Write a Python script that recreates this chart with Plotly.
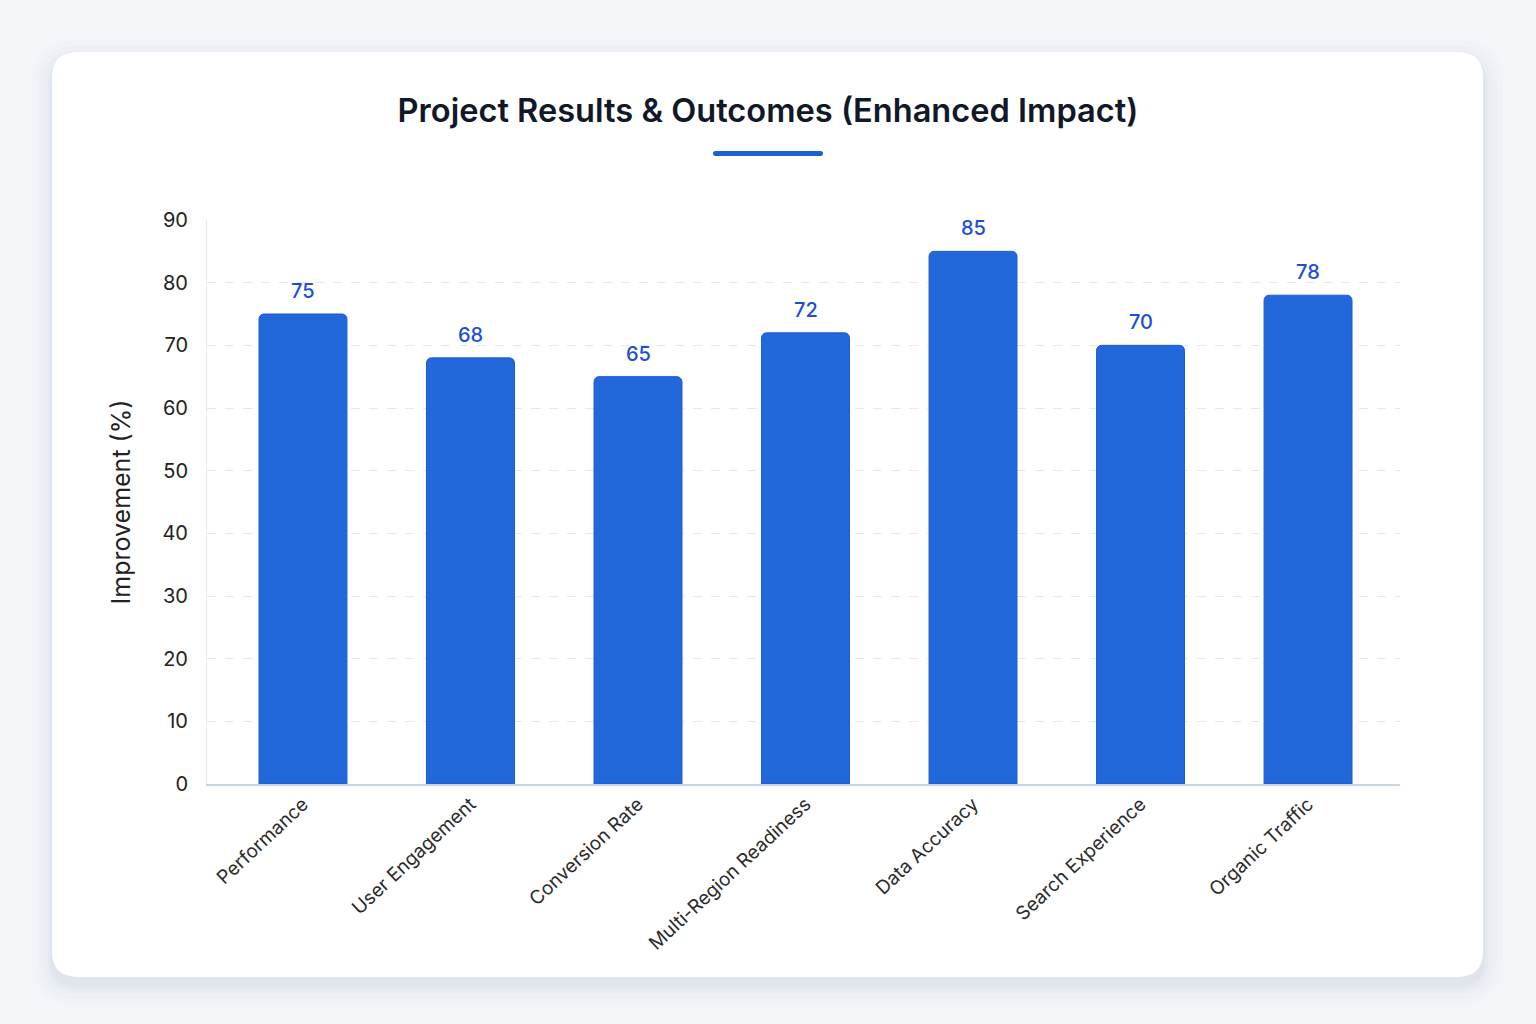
import plotly.graph_objects as go

categories = ['Performance', 'User Engagement', 'Conversion Rate', 'Multi-Region Readiness',
              'Data Accuracy', 'Search Experience', 'Organic Traffic']
improvement = [75, 68, 65, 72, 85, 70, 78]
y_ticks = [0, 10, 20, 30, 40, 50, 60, 70, 80, 90]

W, H = 1536, 1024
# plot area in pixels
L, R, T, B = 207, 1400, 220, 784


def px_x(x):
    return (x - L) / (R - L)


def px_y(y):
    return (B - y) / (B - T)


def round_rect(x0, y0, x1, y1, r):
    # rounded rectangle path, pixel coords -> paper coords
    pts = [
        ('M', x0 + r, y0), ('L', x1 - r, y0), ('Q', x1, y0, x1, y0 + r),
        ('L', x1, y1 - r), ('Q', x1, y1, x1 - r, y1), ('L', x0 + r, y1),
        ('Q', x0, y1, x0, y1 - r), ('L', x0, y0 + r), ('Q', x0, y0, x0 + r, y0),
    ]
    out = []
    for p in pts:
        cmd = p[0]
        coords = p[1:]
        s = cmd
        for i in range(0, len(coords), 2):
            s += ' %.5f,%.5f' % (px_x(coords[i]), px_y(coords[i + 1]))
        out.append(s)
    return ' '.join(out) + ' Z'


shapes = []
# soft shadow under the card
for grow, op in [(20, 0.015), (14, 0.02), (9, 0.025), (5, 0.03), (2, 0.04)]:
    shapes.append(dict(type='path', xref='paper', yref='paper', layer='below',
                       path=round_rect(52 - grow, 52 - grow + 8, 1483 + grow, 977 + grow + 8, 26 + grow),
                       fillcolor='rgba(100,116,160,%.3f)' % op, line=dict(width=0)))
# card
shapes.append(dict(type='path', xref='paper', yref='paper', layer='below',
                   path=round_rect(52, 52, 1483, 977, 26),
                   fillcolor='white', line=dict(width=0)))
# title underline
shapes.append(dict(type='path', xref='paper', yref='paper', layer='above',
                   path=round_rect(713, 151, 823, 156, 2.5),
                   fillcolor='#1d5fd6', line=dict(width=0)))

fig = go.Figure()
fig.add_trace(go.Bar(
    x=categories,
    y=improvement,
    width=0.525,
    marker=dict(color='#2368db', line=dict(color='#1d5bd0', width=1)),
    hovertemplate='%{x}: %{y}%<extra></extra>',
))

# value labels above the bars
for cat, val in zip(categories, improvement):
    fig.add_annotation(x=cat, y=val, text=str(val), showarrow=False,
                       yanchor='bottom', yshift=9,
                       font=dict(family='Inter', size=20, color='#1d4ed8', weight=500))

fig.update_layout(
    width=W, height=H,
    margin=dict(l=L, r=W - R, t=T, b=H - B),
    paper_bgcolor='#f3f5f9',
    plot_bgcolor='rgba(0,0,0,0)',
    font=dict(family='Inter', color='#222'),
    showlegend=False,
    barcornerradius=5,
    shapes=shapes,
    title=dict(text='Project Results & Outcomes (Enhanced Impact)',
               x=0.5, xref='container', xanchor='center', y=1 - 111 / H, yanchor='middle',
               font=dict(family='Inter', size=32.6, color='#111827', weight=600)),
    xaxis=dict(
        range=[-0.573, 6.549],
        tickangle=-43,
        tickfont=dict(family='Inter', size=19, color='#2b2b2b'),
        showgrid=False,
        showline=True, linecolor='#c9d3e6', linewidth=1.5,
        ticks='', ticklen=0,
    ),
    yaxis=dict(
        range=[0, 90],
        tickvals=y_ticks,
        tickfont=dict(family='Inter', size=20, color='#222'),
        title=dict(text='Improvement (%)', font=dict(family='Inter', size=25, color='#222'), standoff=24),
        showgrid=True, gridcolor='#e3e8f1', griddash='dash', gridwidth=1,
        showline=True, linecolor='#e6ebf3', linewidth=1,
        zeroline=False,
        ticks='outside', ticklen=14, tickcolor='rgba(0,0,0,0)',
    ),
)

fig.write_html('out.html', config={'displayModeBar': False},
               post_script="document.body.style.margin='0';")
